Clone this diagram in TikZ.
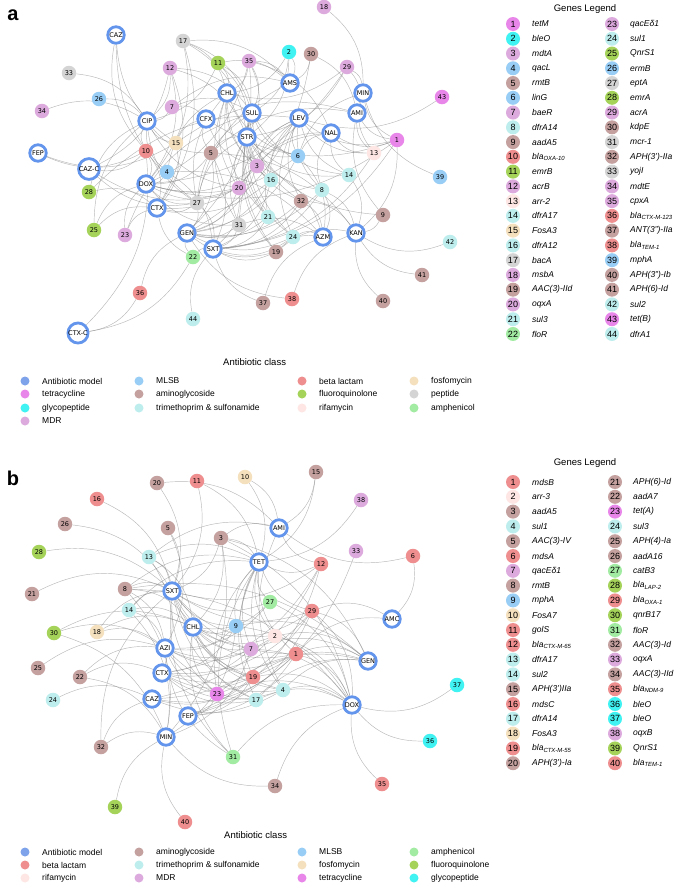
\documentclass[tikz,border=0pt]{standalone}
\usepackage{fontspec}
\setmainfont{Liberation Sans}
\newfontfamily\djv{DejaVu Sans}
\usetikzlibrary{backgrounds}
\definecolor{cAB}{HTML}{6495ED}
\definecolor{cABl}{HTML}{7FA3EA}
\definecolor{cTet}{HTML}{E986E9}
\definecolor{cGly}{HTML}{40F2F2}
\definecolor{cMDR}{HTML}{DDAADE}
\definecolor{cMLSB}{HTML}{98CDF5}
\definecolor{cAmi}{HTML}{C4A09F}
\definecolor{cTri}{HTML}{BDEDED}
\definecolor{cBeta}{HTML}{EF8E8E}
\definecolor{cFlu}{HTML}{A5D35A}
\definecolor{cRif}{HTML}{FDE6E3}
\definecolor{cFos}{HTML}{F5E0BD}
\definecolor{cPep}{HTML}{D4D4D4}
\definecolor{cAmp}{HTML}{A2EBA2}
\tikzset{
  abnode/.style={circle, draw=cAB, line width=2.8pt, fill=white, minimum size=16.5pt, inner sep=0pt, font=\djv\fontsize{6.5}{7}\selectfont},
  gene/.style={circle, minimum size=14.5pt, inner sep=0pt, font=\djv\fontsize{6.5}{7}\selectfont},
  edge/.style={draw=gray, line width=0.45pt, opacity=0.55},
  legdot/.style={circle, minimum size=14pt, inner sep=0pt, font=\fontsize{9}{9}\selectfont},
  legtxt/.style={anchor=west, inner sep=0pt, font=\itshape\fontsize{8.5}{9}\selectfont},
  clsdot/.style={circle, minimum size=9pt, inner sep=0pt},
  clstxt/.style={anchor=west, inner sep=0pt, font=\fontsize{8.5}{9}\selectfont},
  ttl/.style={inner sep=0pt, font=\fontsize{9.5}{10}\selectfont},
  panel/.style={inner sep=0pt, font=\bfseries\fontsize{20}{20}\selectfont}
}
\begin{document}
\begin{tikzpicture}[x=1pt,y=-1pt]
\path[use as bounding box] (0,0) rectangle (685,884);
\node[panel] (pa) at (13,15) {a};
\node[panel] (pb) at (13,478) {b};
% ---------- panel a antibiotics
\foreach \n/\x/\y/\t in {CAZ/116/35/CAZ, FEP/38/153/FEP, CAZC/89/169/CAZ-C, CIP/147/121/CIP, CFX/206/119/CFX, CHL/227/93/CHL, AMS/290/83/AMS, MIN/363/93/MIN, SUL/252/113/SUL, LEV/299/118/LEV, AMI/357/113/AMI, STR/247/137/STR, NAL/331/133/NAL, DOX/146/184/DOX, CTX/157/208/CTX, GEN/187/233/GEN, SXT/213/249/SXT, AZM/323/237/AZM, KAN/356/233/KAN, CTXC/78/333/CTX-C}
  {\node[abnode] (a\n) at (\x,\y) {\t};}
% ---------- panel a genes
\foreach \n/\x/\y/\c in {1/397/140/Tet, 2/289/52/Gly, 3/257/166/MDR, 4/167/172/MLSB, 5/211/153/Ami, 6/298/156/MLSB, 7/172/107/MDR, 8/322/190/Tri, 9/383/215/Ami, 10/146/151/Beta, 11/218/63/Flu, 12/170/68/MDR, 13/374/153/Rif, 14/349/175/Tri, 15/176/143/Fos, 16/271/180/Tri, 17/183/41/Pep, 18/324/7/MDR, 19/276/252/Ami, 20/239/188/MDR, 21/268/217/Tri, 22/193/257/Amp, 23/125/235/MDR, 24/293/237/Tri, 25/94/230/Flu, 26/99/99/MLSB, 27/197/203/Pep, 28/89/192/Flu, 29/347/67/MDR, 30/311/54/Ami, 31/239/225/Pep, 32/301/201/Ami, 33/69/73/Pep, 34/42/111/MDR, 35/249/61/MDR, 36/140/293/Beta, 37/263/303/Ami, 38/292/299/Beta, 39/440/177/MLSB, 40/383/301/Ami, 41/422/275/Ami, 42/450/242/Tri, 43/442/97/Tet, 44/193/319/Tri}
  {\node[gene, fill=c\c] (aG\n) at (\x,\y) {\n};}
% ---------- panel b antibiotics
\foreach \n/\x/\y in {AMI/279/528, TET/259/562, SXT/172/591, CHL/193/627, AZI/165/648, CTX/162/673, CAZ/152/699, FEP/188/716, MIN/166/737, AMC/392/619, GEN/368/661, DOX/352/705}
  {\node[abnode] (b\n) at (\x,\y) {\n};}
% ---------- panel b genes
\foreach \n/\x/\y/\c in {1/296/654/Beta, 2/275/636/Rif, 3/221/538/Ami, 4/283/690/Tri, 5/168/528/Ami, 6/413/556/Beta, 7/251/649/MDR, 8/125/589/Ami, 9/236/626/MLSB, 10/245/477/Fos, 11/197/481/Beta, 12/321/564/Beta, 13/149/557/Tri, 14/129/610/Tri, 15/316/472/Ami, 16/97/499/Beta, 17/256/700/Tri, 18/97/632/Fos, 19/253/677/Beta, 20/157/483/Ami, 21/32/594/Ami, 22/80/677/Ami, 23/217/694/Tet, 24/53/700/Tri, 25/38/668/Ami, 26/65/524/Ami, 27/270/602/Amp, 28/39/552/Flu, 29/312/611/Beta, 30/54/633/Flu, 31/233/757/Amp, 32/101/747/Ami, 33/356/551/MDR, 34/275/786/Ami, 35/382/784/Beta, 36/430/741/Gly, 37/457/685/Gly, 38/361/500/MDR, 39/115/807/Flu, 40/185/822/Beta}
  {\node[gene, fill=c\c] (bG\n) at (\x,\y) {\n};}
% ---------- edges
\begin{scope}[on background layer]
\fill[white] (0,0) rectangle (685,884);
\foreach \g/\a in {1/MIN, 1/DOX, 1/SXT, 1/CFX, 1/AMI, 1/LEV, 1/NAL, 1/KAN, 2/AMS, 2/CHL, 2/STR, 2/SUL, 3/SUL, 3/STR, 3/LEV, 3/CTX, 3/GEN, 3/NAL, 3/CHL, 3/DOX, 3/AZM, 3/CFX, 4/CIP, 4/DOX, 4/AZM, 4/SXT, 4/CHL, 5/CFX, 5/STR, 5/KAN, 5/GEN, 5/AMI, 5/CIP, 5/DOX, 5/SXT, 6/LEV, 6/NAL, 6/AZM, 6/DOX, 6/CHL, 6/SUL, 6/STR, 6/GEN, 6/MIN, 7/CIP, 7/CFX, 7/SUL, 7/AMS, 8/NAL, 8/KAN, 8/SXT, 8/LEV, 8/STR, 8/GEN, 8/AZM, 9/KAN, 9/AMI, 9/STR, 10/CIP, 10/DOX, 10/CTX, 10/CAZ, 10/FEP, 10/CAZC, 10/CTXC, 11/CHL, 11/AMS, 11/CIP, 11/SUL, 11/STR, 12/CIP, 12/CAZC, 12/SUL, 12/STR, 12/DOX, 12/CTX, 13/NAL, 13/MIN, 13/LEV, 13/AMI, 13/SXT, 14/NAL, 14/KAN, 14/SUL, 14/LEV, 14/STR, 15/CIP, 15/CFX, 15/CTX, 15/AMI, 15/CAZ, 15/FEP, 16/SUL, 16/STR, 16/SXT, 16/CHL, 16/CTX, 16/LEV, 16/GEN, 17/CHL, 17/AMS, 17/CTX, 17/SUL, 17/STR, 17/DOX, 18/MIN, 19/GEN, 19/KAN, 19/AZM, 19/STR, 19/SXT, 19/SUL, 20/STR, 20/SXT, 20/CHL, 20/DOX, 20/GEN, 20/CIP, 20/LEV, 20/NAL, 20/CAZC, 21/SXT, 21/SUL, 21/GEN, 21/STR, 21/CHL, 21/LEV, 22/GEN, 22/SXT, 22/CTX, 22/CTXC, 23/CTX, 23/DOX, 23/SUL, 24/SXT, 24/SUL, 24/AZM, 24/GEN, 24/STR, 24/LEV, 25/CIP, 25/CTX, 25/DOX, 26/CIP, 27/DOX, 27/CTX, 27/STR, 27/SXT, 27/AMS, 27/CHL, 27/GEN, 27/CIP, 27/SUL, 27/CAZ, 27/CAZC, 28/CIP, 28/LEV, 28/CTX, 29/MIN, 29/AMI, 29/CHL, 29/STR, 29/DOX, 30/AMS, 30/AMI, 30/GEN, 31/SXT, 31/STR, 31/CHL, 31/GEN, 31/AZM, 31/LEV, 31/DOX, 32/KAN, 32/GEN, 32/AZM, 32/STR, 32/SXT, 32/SUL, 32/LEV, 33/CIP, 34/CIP, 35/CHL, 35/SUL, 35/AMS, 35/NAL, 35/STR, 35/DOX, 35/GEN, 36/CTXC, 36/GEN, 37/SXT, 37/AZM, 38/KAN, 38/GEN, 39/MIN, 40/KAN, 41/KAN, 42/KAN, 43/LEV, 44/SXT}
  {\draw[edge] (aG\g) to[bend left=25] (a\a);}
\foreach \g/\a in {1/GEN, 1/AMC, 1/DOX, 1/CTX, 1/CAZ, 1/FEP, 1/TET, 1/CHL, 1/SXT, 1/AZI, 2/TET, 2/CHL, 2/AZI, 2/DOX, 2/GEN, 2/SXT, 3/SXT, 3/AMI, 3/TET, 3/GEN, 3/MIN, 3/CHL, 3/DOX, 4/SXT, 4/DOX, 4/GEN, 4/TET, 4/CHL, 4/AZI, 4/CTX, 4/CAZ, 4/AMI, 5/SXT, 5/AZI, 6/AMI, 6/AMC, 7/TET, 7/CHL, 7/CTX, 7/DOX, 7/SXT, 7/AZI, 7/GEN, 7/MIN, 8/SXT, 8/CHL, 8/AZI, 8/GEN, 8/MIN, 8/TET, 8/DOX, 9/CHL, 9/AZI, 9/TET, 9/DOX, 9/SXT, 9/CTX, 9/GEN, 9/MIN, 10/TET, 10/AMI, 11/SXT, 11/TET, 12/AMI, 12/CTX, 12/CAZ, 12/FEP, 12/TET, 12/SXT, 13/SXT, 13/AMI, 13/CTX, 13/TET, 13/CHL, 14/CHL, 14/SXT, 14/MIN, 14/AZI, 14/TET, 15/AMI, 15/TET, 16/SXT, 17/SXT, 17/DOX, 17/TET, 17/CHL, 17/AZI, 17/CTX, 17/GEN, 18/CHL, 18/AZI, 18/SXT, 19/CTX, 19/CAZ, 19/FEP, 19/TET, 19/SXT, 19/CHL, 19/DOX, 19/GEN, 20/AMI, 20/SXT, 21/SXT, 22/CTX, 22/AZI, 22/MIN, 23/TET, 23/DOX, 23/CHL, 23/SXT, 23/AZI, 23/FEP, 23/GEN, 24/CAZ, 25/AZI, 26/SXT, 27/TET, 27/CHL, 27/SXT, 27/DOX, 27/AZI, 28/SXT, 29/AMC, 29/CTX, 29/FEP, 29/DOX, 29/CAZ, 29/TET, 29/SXT, 29/CHL, 29/GEN, 30/CHL, 30/AZI, 30/MIN, 31/CHL, 31/DOX, 31/TET, 31/SXT, 31/AZI, 32/MIN, 32/CAZ, 32/SXT, 33/FEP, 34/DOX, 34/MIN, 35/DOX, 36/DOX, 37/DOX, 38/TET, 39/MIN, 40/MIN}
  {\draw[edge] (bG\g) to[bend left=25] (b\a);}
\end{scope}
% ---------- gene legend a
\node[ttl] (aGL) at (585,9) {Genes Legend};
\foreach \i/\c/\t [count=\k from 0] in {1/Tet/tetM, 2/Gly/bleO, 3/MDR/mdtA, 4/MLSB/qacL, 5/Ami/rmtB, 6/MLSB/linG, 7/MDR/baeR, 8/Tri/dfrA14, 9/Ami/aadA5, 10/Beta/bla\textsubscript{OXA-10}, 11/Flu/emrB, 12/MDR/acrB, 13/Rif/arr-2, 14/Tri/dfrA17, 15/Fos/FosA3, 16/Tri/dfrA12, 17/Pep/bacA, 18/MDR/msbA, 19/Ami/AAC(3)-IId, 20/MDR/oqxA, 21/Tri/sul3, 22/Amp/floR}
  {\node[legdot, fill=c\c] (aL\i) at (513,{24+\k*14.76}) {\i};
   \node[legtxt] (aLt\i) at (532,{24+\k*14.76}) {\t};}
\foreach \i/\c/\t [count=\k from 0] in {23/MDR/qacEδ1, 24/Tri/sul1, 25/Flu/QnrS1, 26/MLSB/ermB, 27/Pep/eptA, 28/Flu/emrA, 29/MDR/acrA, 30/Ami/kdpE, 31/Pep/mcr-1, 32/Ami/APH(3’)-IIa, 33/Pep/yojI, 34/MDR/mdtE, 35/MDR/cpxA, 36/Beta/bla\textsubscript{CTX-M-123}, 37/Ami/ANT(3”)-IIa, 38/Beta/bla\textsubscript{TEM-1}, 39/MLSB/mphA, 40/Ami/APH(3”)-Ib, 41/Ami/APH(6)-Id, 42/Tri/sul2, 43/Tet/tet(B), 44/Tri/dfrA1}
  {\node[legdot, fill=c\c] (aL\i) at (612,{24+\k*14.76}) {\i};
   \node[legtxt] (aLt\i) at (630,{24+\k*14.76}) {\t};}
% ---------- gene legend b
\node[ttl] (bGL) at (585,463) {Genes Legend};
\foreach \i/\c/\t [count=\k from 0] in {1/Beta/mdsB, 2/Rif/arr-3, 3/Ami/aadA5, 4/Tri/sul1, 5/Ami/AAC(3)-IV, 6/Beta/mdsA, 7/MDR/qacEδ1, 8/Ami/rmtB, 9/MLSB/mphA, 10/Fos/FosA7, 11/Beta/golS, 12/Beta/bla\textsubscript{CTX-M-65}, 13/Tri/dfrA17, 14/Tri/sul2, 15/Ami/APH(3’)IIa, 16/Beta/mdsC, 17/Tri/dfrA14, 18/Fos/FosA3, 19/Beta/bla\textsubscript{CTX-M-55}, 20/Ami/APH(3’)-Ia}
  {\node[legdot, fill=c\c] (bL\i) at (513,{482+\k*14.8}) {\i};
   \node[legtxt] (bLt\i) at (532,{482+\k*14.8}) {\t};}
\foreach \i/\c/\t [count=\k from 0] in {21/Ami/APH(6)-Id, 22/Ami/aadA7, 23/Tet/tet(A), 24/Tri/sul3, 25/Ami/APH(4)-Ia, 26/Ami/aadA16, 27/Amp/catB3, 28/Flu/bla\textsubscript{LAP-2}, 29/Beta/bla\textsubscript{OXA-1}, 30/Flu/qnrB17, 31/Amp/floR, 32/Ami/AAC(3)-Id, 33/MDR/oqxA, 34/Ami/AAC(3)-IId, 35/Beta/bla\textsubscript{NDM-9}, 36/Gly/bleO, 37/Gly/bleO, 38/MDR/oqxB, 39/Flu/QnrS1, 40/Beta/bla\textsubscript{TEM-1}}
  {\node[legdot, fill=c\c] (bL\i) at (615,{482+\k*14.8}) {\i};
   \node[legtxt] (bLt\i) at (633,{482+\k*14.8}) {\t};}
% ---------- class legend a
\node[ttl, anchor=west] (aCL) at (223,362) {Antibiotic class};
\foreach \c/\t/\x/\y [count=\k] in {ABl/Antibiotic model/25/381, Tet/tetracycline/25/394, Gly/glycopeptide/25/408, MDR/MDR/25/421, MLSB/MLSB/139/381, Ami/aminoglycoside/139/394, Tri/trimethoprim \& sulfonamide/139/408, Beta/beta lactam/302/381, Flu/fluoroquinolone/302/394, Rif/rifamycin/302/408, Fos/fosfomycin/414/381, Pep/peptide/414/394, Amp/amphenicol/414/408}
  {\node[clsdot, fill=c\c] (aC\k) at (\x,\y) {};
   \node[clstxt] (aCt\k) at (\x+17,\y) {\t};}
% ---------- class legend b
\node[ttl, anchor=west] (bCL) at (224,835) {Antibiotic class};
\foreach \c/\t/\x/\y [count=\k] in {ABl/Antibiotic model/25/852, Beta/beta lactam/25/865, Rif/rifamycin/25/878, Ami/aminoglycoside/139/852, Tri/trimethoprim \& sulfonamide/139/865, MDR/MDR/139/878, MLSB/MLSB/302/852, Fos/fosfomycin/302/865, Tet/tetracycline/302/878, Amp/amphenicol/414/852, Flu/fluoroquinolone/414/865, Gly/glycopeptide/414/878}
  {\node[clsdot, fill=c\c] (bC\k) at (\x,\y) {};
   \node[clstxt] (bCt\k) at (\x+17,\y) {\t};}
\end{tikzpicture}
\end{document}
